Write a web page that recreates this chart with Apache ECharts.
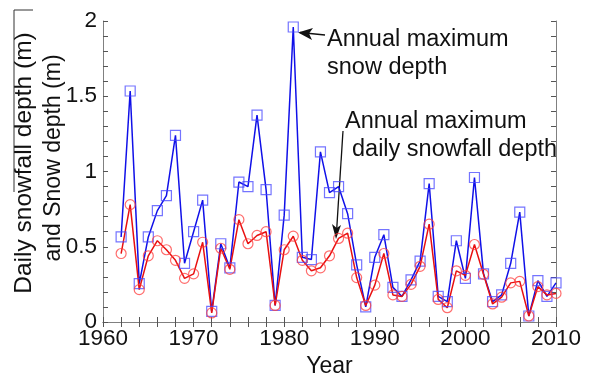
<!DOCTYPE html>
<html>
<head>
<meta charset="utf-8">
<script src="https://cdn.jsdelivr.net/npm/echarts@6/dist/echarts.min.js"></script>
<style>
    html, body { margin: 0; padding: 0; background: #fff; }
    #chart { width: 593px; height: 376px; }
</style>
</head>
<body>
<div id="chart"></div>
<script>
// years 1962 - 2010
var years = [1962, 1963, 1964, 1965, 1966, 1967, 1968, 1969, 1970, 1971,
    1972, 1973, 1974, 1975, 1976, 1977, 1978, 1979, 1980, 1981,
    1982, 1983, 1984, 1985, 1986, 1987, 1988, 1989, 1990, 1991,
    1992, 1993, 1994, 1995, 1996, 1997, 1998, 1999, 2000, 2001,
    2002, 2003, 2004, 2005, 2006, 2007, 2008, 2009, 2010];
// annual maximum snow depth (m)
var snowDepth = [0.565, 1.535, 0.255, 0.565, 0.74, 0.84, 1.24, 0.39, 0.60, 0.81,
    0.07, 0.52, 0.36, 0.93, 0.90, 1.375, 0.88, 0.11, 0.71, 1.96,
    0.43, 0.415, 1.13, 0.86, 0.90, 0.72, 0.38, 0.10, 0.43, 0.58,
    0.23, 0.17, 0.28, 0.405, 0.92, 0.17, 0.135, 0.54, 0.29, 0.96,
    0.32, 0.135, 0.18, 0.39, 0.73, 0.04, 0.275, 0.17, 0.26];
// annual maximum daily snowfall depth (m)
var snowfall = [0.455, 0.78, 0.215, 0.44, 0.54, 0.48, 0.41, 0.29, 0.32, 0.53,
    0.06, 0.49, 0.35, 0.68, 0.52, 0.575, 0.60, 0.11, 0.48, 0.57,
    0.41, 0.34, 0.36, 0.44, 0.555, 0.59, 0.295, 0.11, 0.245, 0.455,
    0.18, 0.17, 0.25, 0.37, 0.65, 0.15, 0.095, 0.34, 0.31, 0.515,
    0.317, 0.12, 0.165, 0.26, 0.27, 0.04, 0.235, 0.18, 0.19];
var xRange = [1960, 2010];   // labels every 10 years, ticks every 2
var yRange = [0, 2];         // labels every 0.5, ticks every 0.1

var FONT = 'Liberation Sans, Arial, sans-serif';

function pairs(vals) {
    return years.map(function (y, i) { return [y, vals[i]]; });
}
function isStep(v, step) {
    var k = v / step;
    return Math.abs(k - Math.round(k)) < 1e-6;
}

var tickStyle = { show: true, inside: true, length: 5, lineStyle: { color: '#555', width: 1 } };
var lineStyleAxis = { show: true, lineStyle: { color: '#808080', width: 1 } };
var labelStyle = { fontFamily: FONT, fontSize: 22.5, color: '#111' };

var chart = echarts.init(document.getElementById('chart'));
chart.setOption({
    backgroundColor: '#fff',
    animation: false,
    grid: { left: 103, right: 37, top: 21, bottom: 54, outerBoundsMode: 'none', containLabel: false },
    xAxis: [{
        type: 'value', min: xRange[0], max: xRange[1], interval: 2,
        axisLine: lineStyleAxis, axisTick: tickStyle,
        splitLine: { show: false },
        axisLabel: Object.assign({ margin: 5, showMinLabel: true, showMaxLabel: true,
            formatter: function (v) { return isStep(v, 10) ? String(v) : ''; } }, labelStyle),
        name: 'Year', nameLocation: 'middle', nameGap: 32,
        nameTextStyle: { fontFamily: FONT, fontSize: 23, color: '#111' }
    }, {
        type: 'value', position: 'top', min: xRange[0], max: xRange[1], interval: 2,
        axisLine: lineStyleAxis, axisTick: tickStyle,
        splitLine: { show: false }, axisLabel: { show: false }
    }],
    yAxis: [{
        type: 'value', min: yRange[0], max: yRange[1], interval: 0.1,
        axisLine: lineStyleAxis, axisTick: tickStyle,
        splitLine: { show: false },
        axisLabel: Object.assign({ margin: 6,
            formatter: function (v) { return isStep(v, 0.5) ? String(+v.toFixed(1)) : ''; } }, labelStyle)
    }, {
        type: 'value', position: 'right', min: yRange[0], max: yRange[1], interval: 0.1,
        axisLine: lineStyleAxis, axisTick: tickStyle,
        splitLine: { show: false }, axisLabel: { show: false }
    }],
    series: [{
        name: 'Annual maximum snow depth',
        type: 'line',
        data: pairs(snowDepth),
        symbol: 'rect', symbolSize: 10,
        lineStyle: { color: '#1010e8', width: 1.5 },
        itemStyle: { color: 'rgba(0,0,0,0)', borderColor: 'rgba(70,70,255,0.75)', borderWidth: 1.2 }
    }, {
        name: 'Annual maximum daily snowfall depth',
        type: 'line',
        data: pairs(snowfall),
        symbol: 'circle', symbolSize: 10,
        lineStyle: { color: '#e81010', width: 1.5 },
        itemStyle: { color: 'rgba(0,0,0,0)', borderColor: 'rgba(255,60,60,0.75)', borderWidth: 1.2 }
    }],
    graphic: [
        { type: 'text', x: 327, y: 40, style: { text: 'Annual maximum', font: '23.5px ' + FONT, fill: '#111', verticalAlign: 'middle' } },
        { type: 'text', x: 327, y: 68, style: { text: 'snow depth', font: '23.5px ' + FONT, fill: '#111', verticalAlign: 'middle' } },
        { type: 'line', shape: { x1: 325, y1: 35, x2: 300, y2: 32.5 }, style: { stroke: '#111', lineWidth: 1.3 } },
        { type: 'polygon', shape: { points: [[298, 32.5], [313, 28], [309, 33.5], [312, 40]] }, style: { fill: '#111' } },
        { type: 'text', x: 345, y: 122, style: { text: 'Annual maximum', font: '23.5px ' + FONT, fill: '#111', verticalAlign: 'middle' } },
        { type: 'text', x: 352, y: 150, style: { text: 'daily snowfall depth', font: '23.5px ' + FONT, fill: '#111', verticalAlign: 'middle' } },
        { type: 'line', shape: { x1: 343, y1: 131, x2: 336.5, y2: 232 }, style: { stroke: '#111', lineWidth: 1.3 } },
        { type: 'polygon', shape: { points: [[336, 239], [332, 224], [336.7, 228], [341, 225]] }, style: { fill: '#111' } },
        { type: 'text', x: 24, y: 163, rotation: Math.PI / 2, style: { text: 'Daily snowfall depth (m)', font: '24.5px ' + FONT, fill: '#111', align: 'center', verticalAlign: 'middle' } },
        { type: 'text', x: 54, y: 158, rotation: Math.PI / 2, style: { text: 'and Snow depth (m)', font: '23px ' + FONT, fill: '#111', align: 'center', verticalAlign: 'middle' } },
        { type: 'polyline', shape: { points: [[33, 10], [14, 10], [14, 192]] }, style: { stroke: '#333', lineWidth: 1, fill: null } }
    ]
});
</script>
</body>
</html>
